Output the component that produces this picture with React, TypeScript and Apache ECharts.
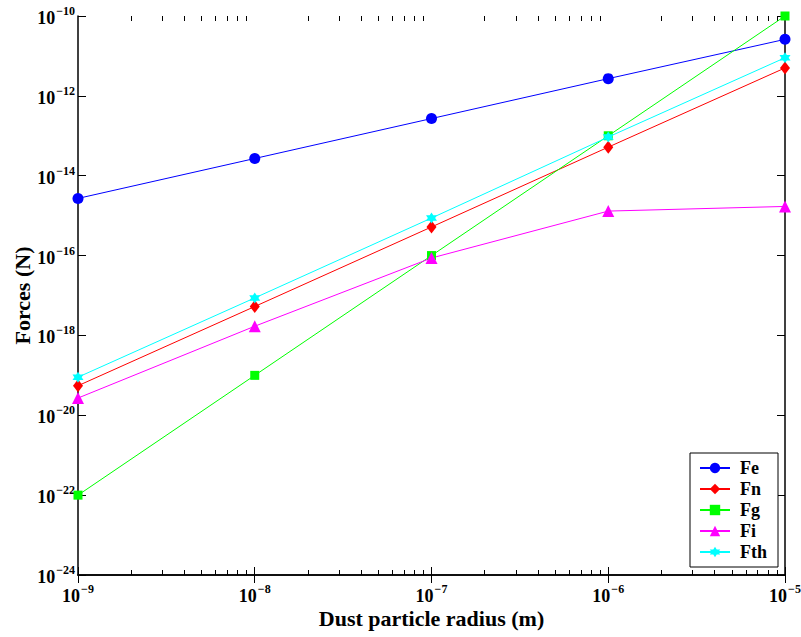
import React, { useEffect, useRef } from "react";
import * as echarts from "echarts";

const radius = [1e-9, 1e-8, 1e-7, 1e-6, 1e-5];
const fe = [2.7e-15, 2.7e-14, 2.7e-13, 2.7e-12, 2.6e-11];
const fn = [5.5e-20, 5.3e-18, 5.2e-16, 5.2e-14, 5.0e-12];
const fg = [1e-22, 1e-19, 1e-16, 1e-13, 1e-10];
const fi = [2.7e-20, 1.7e-18, 8.7e-17, 1.3e-15, 1.7e-15];
const fth = [9e-20, 8.7e-18, 8.7e-16, 9.3e-14, 9e-12];

const xMajorTicks = [1e-9, 1e-8, 1e-7, 1e-6, 1e-5];
const xMinorFactors = [2, 3, 4, 5, 6, 7, 8, 9];
const yMajorTicks = [1e-24, 1e-22, 1e-20, 1e-18, 1e-16, 1e-14, 1e-12, 1e-10];

const xMinorTicks = xMajorTicks.slice(0, -1).flatMap((d) => xMinorFactors.map((k) => k * d));

const STAR =
  "path://M0,-10L2.885,-5L8.66,-5L5.77,0L8.66,5L2.885,5L0,10L-2.885,5L-8.66,5L-5.77,0L-8.66,-5L-2.885,-5Z";

const FONT = "'Liberation Serif', 'Times New Roman', serif";

const expLabel = (v: number) => {
  const e = Math.round(Math.log10(v));
  return `{b|10}{s|${e < 0 ? "\u2212" : ""}${Math.abs(e)}}`;
};

const rich = {
  b: { fontSize: 18, fontWeight: "bold", fontFamily: FONT, color: "#000", verticalAlign: "bottom" },
  s: { fontSize: 12, fontWeight: "bold", fontFamily: FONT, color: "#000", padding: [0, 0, 10, 1], verticalAlign: "bottom" },
};

const pair = (ys: number[]) => radius.map((x, i) => [x, ys[i]]);

export default function App() {
  const ref = useRef<HTMLDivElement>(null);
  useEffect(() => {
    if (!ref.current) return;
    const chart = echarts.init(ref.current, undefined, { renderer: "svg" });
    const axisLine = { show: true, lineStyle: { color: "#000", width: 1.5 } };
    const xBase = {
      type: "log" as const,
      min: 1e-9,
      max: 1e-5,
      logBase: 10,
      splitLine: { show: false },
      axisLine,
    };
    const yBase = {
      type: "log" as const,
      min: 1e-24,
      max: 1e-10,
      logBase: 10,
      splitLine: { show: false },
      axisLine,
    };
    const mkSeries = (name: string, data: number[], color: string, symbol: string, size: any) => ({
      name,
      type: "line",
      data: pair(data),
      symbol,
      symbolSize: size,
      clip: false,
      lineStyle: { color, width: 1 },
      itemStyle: { color },
      emphasis: { disabled: true },
    });
    chart.setOption({
      animation: false,
      textStyle: { fontFamily: FONT },
      grid: { left: 78, right: 16, top: 16, bottom: 62, containLabel: false, outerBoundsMode: "none" },
      xAxis: [
        {
          ...xBase,
          position: "bottom",
          name: "Dust particle radius (m)",
          nameLocation: "middle",
          nameGap: 32,
          nameMoveOverlap: false,
          nameTextStyle: { fontSize: 22, fontWeight: "bold", fontFamily: FONT, color: "#000" },
          axisTick: { show: true, inside: true, length: 8, lineStyle: { color: "#000" }, customValues: xMajorTicks },
          axisLabel: { show: true, margin: 8, customValues: xMajorTicks, formatter: expLabel, rich, fontFamily: FONT },
        },
        {
          ...xBase,
          position: "top",
          axisTick: { show: true, inside: true, length: 8, lineStyle: { color: "#000" }, customValues: xMajorTicks },
          axisLabel: { show: false },
        },
        {
          ...xBase,
          position: "bottom",
          axisLine: { show: false },
          axisTick: { show: true, inside: true, length: 5, lineStyle: { color: "#000" }, customValues: xMinorTicks },
          axisLabel: { show: false },
        },
        {
          ...xBase,
          position: "top",
          axisLine: { show: false },
          axisTick: { show: true, inside: true, length: 5, lineStyle: { color: "#000" }, customValues: xMinorTicks },
          axisLabel: { show: false },
        },
      ],
      yAxis: [
        {
          ...yBase,
          position: "left",
          name: "Forces (N)",
          nameLocation: "middle",
          nameGap: 45,
          nameMoveOverlap: false,
          nameTextStyle: { fontSize: 22, fontWeight: "bold", fontFamily: FONT, color: "#000" },
          axisTick: { show: true, inside: true, length: 8, lineStyle: { color: "#000" }, customValues: yMajorTicks },
          axisLabel: { show: true, margin: 3, customValues: yMajorTicks, formatter: expLabel, rich, fontFamily: FONT },
        },
        {
          ...yBase,
          position: "right",
          axisTick: { show: true, inside: true, length: 8, lineStyle: { color: "#000" }, customValues: yMajorTicks },
          axisLabel: { show: false },
        },
      ],
      legend: {
        right: 23,
        bottom: 70,
        orient: "vertical",
        backgroundColor: "#fff",
        borderColor: "#000",
        borderWidth: 1,
        borderRadius: 0,
        padding: [6, 11, 6, 9],
        itemWidth: 30,
        itemHeight: 13,
        itemGap: 3,
        textStyle: { fontSize: 18, fontWeight: "bold", fontFamily: FONT, color: "#000", padding: [0, 0, 0, 5] },
        data: ["Fe", "Fn", "Fg", "Fi", "Fth"],
      },
      series: [
        mkSeries("Fe", fe, "#0000ff", "circle", 11),
        mkSeries("Fn", fn, "#ff0000", "diamond", [10, 13]),
        mkSeries("Fg", fg, "#00ff00", "rect", 9),
        mkSeries("Fi", fi, "#ff00ff", "triangle", 12),
        mkSeries("Fth", fth, "#00ffff", STAR, 11),
      ],
    });
    return () => chart.dispose();
  }, []);
  return (
    <div
      ref={ref}
      style={{ position: "absolute", left: 0, top: 0, width: 801, height: 637 }}
    />
  );
}
